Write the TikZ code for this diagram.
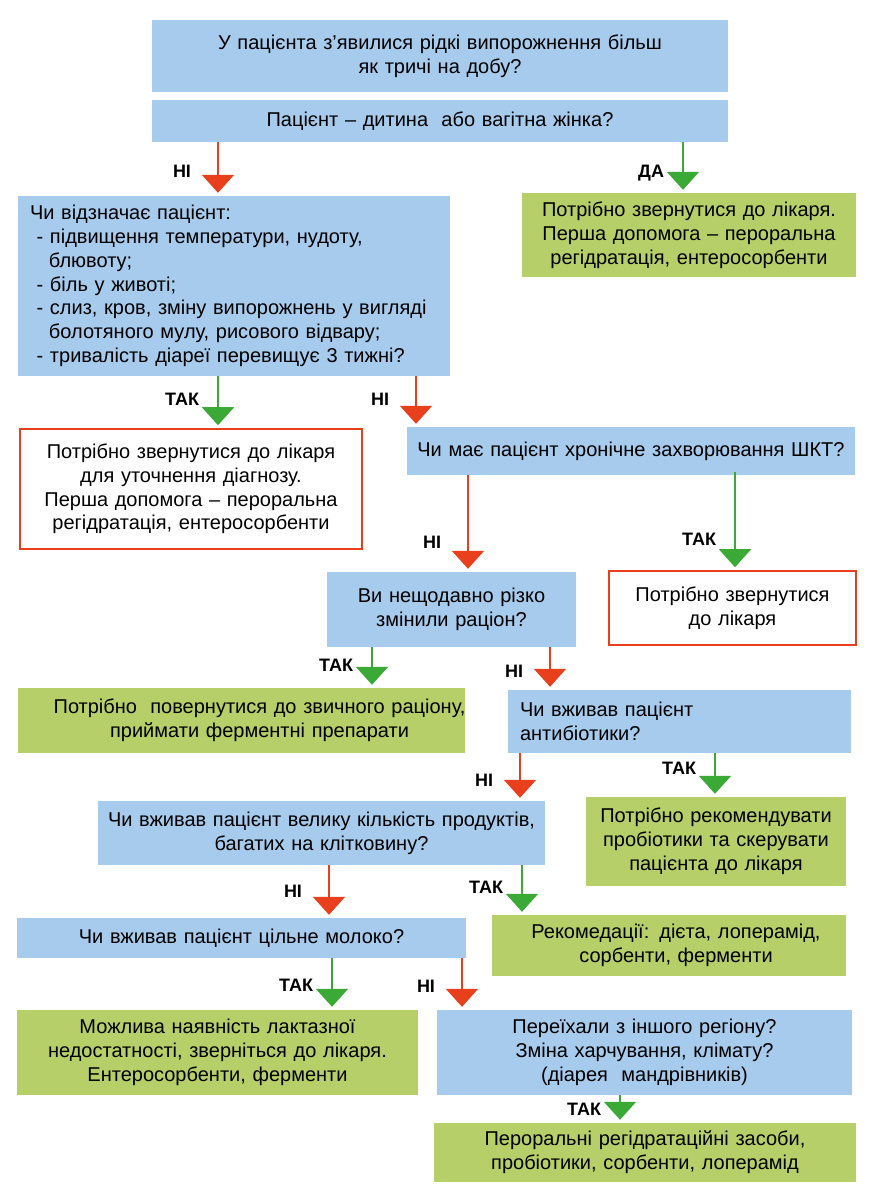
\documentclass[tikz,border=0pt]{standalone}
\usepackage{fontspec}
\setmainfont{Liberation Sans}
\usetikzlibrary{arrows.meta}

\definecolor{qblue}{RGB}{166,203,237}
\definecolor{agreen}{RGB}{183,207,104}
\definecolor{nred}{RGB}{232,64,28}
\definecolor{ygreen}{RGB}{59,169,53}

\newcommand{\boxfont}{\fontsize{20}{23.8}\selectfont}
\newcommand{\lblfont}{\fontsize{18}{20}\selectfont\bfseries}

\tikzset{
  qbox/.style={fill=qblue, inner sep=0pt, align=center, font=\boxfont},
  abox/.style={fill=agreen, inner sep=0pt, align=center, font=\boxfont},
  dbox/.style={draw=nred, line width=1.6pt, fill=white, inner sep=0pt, align=center, font=\boxfont},
  noarrow/.style={draw=nred, line width=2pt, -{Triangle[width=32pt,length=18pt]}, shorten >=3pt},
  yesarrow/.style={draw=ygreen, line width=2pt, -{Triangle[width=32pt,length=18pt]}, shorten >=3pt},
  nlbl/.style={font=\lblfont, anchor=east, xshift=-26pt, inner sep=0pt},
  ylbl/.style={font=\lblfont, anchor=east, xshift=-18pt, inner sep=0pt}
}

\begin{document}
\begin{tikzpicture}[x=1pt, y=-1pt]
  \useasboundingbox (0,0) rectangle (876,1200);

  % questions and answers
  \node[qbox, minimum width=576pt, minimum height=72pt, text width=560pt] (b1) at (440,56)
    {У пацієнта з’явилися рідкі випорожнення більш\\ як тричі на добу?};
  \node[qbox, minimum width=576pt, minimum height=42pt, text width=560pt] (b2) at (440,121)
    {Пацієнт – дитина~ або вагітна жінка?};
  \node[qbox, minimum width=432pt, minimum height=180pt, text width=408pt, align=left] (b3) at (234,286)
    {Чи відзначає пацієнт:\\
     \ - підвищення температури, нудоту,\\
     \hspace*{19pt}блювоту;\\
     \ - біль у животі;\\
     \ - слиз, кров, зміну випорожнень у вигляді\\
     \hspace*{19pt}болотяного мулу, рисового відвару;\\
     \ - тривалість діареї перевищує 3 тижні?};
  \node[abox, minimum width=334pt, minimum height=84pt, text width=324pt] (b4) at (689,235)
    {Потрібно звернутися до лікаря.\\ Перша допомога – пероральна\\ регідратація, ентеросорбенти};
  \node[dbox, minimum width=342pt, minimum height=120pt, text width=330pt] (b5) at (191,489)
    {Потрібно звернутися до лікаря\\ для уточнення діагнозу.\\ Перша допомога – пероральна\\ регідратація, ентеросорбенти};
  \node[qbox, minimum width=448pt, minimum height=48pt, text width=444pt] (b6) at (631,451)
    {Чи має пацієнт хронічне захворювання ШКТ?};
  \node[qbox, minimum width=249pt, minimum height=75pt, text width=239pt] (b7) at (451.5,609.5)
    {Ви нещодавно різко\\ змінили раціон?};
  \node[dbox, minimum width=247pt, minimum height=74pt, text width=237pt] (b8) at (732.5,608)
    {Потрібно звернутися\\ до лікаря};
  \node[abox, minimum width=447pt, minimum height=65pt, text width=447pt] (b9) at (241.5,720.5)
    {\hspace*{36pt}\makebox[0pt]{Потрібно~ повернутися до звичного раціону,}\\
     \hspace*{36pt}\makebox[0pt]{приймати ферментні препарати}};
  \node[qbox, minimum width=343pt, minimum height=63pt, text width=319pt, align=left] (b10) at (679.5,721.5)
    {Чи вживав пацієнт\\ антибіотики?};
  \node[qbox, minimum width=447pt, minimum height=64pt, text width=447pt] (b11) at (321.5,833)
    {Чи вживав пацієнт велику кількість продуктів,\\ багатих на клітковину?};
  \node[abox, minimum width=260pt, minimum height=89pt, text width=256pt] (b12) at (716,841.5)
    {Потрібно рекомендувати\\ пробіотики та скерувати\\ пацієнта до лікаря};
  \node[qbox, minimum width=449pt, minimum height=40pt, text width=435pt] (b13) at (241.5,938)
    {Чи вживав пацієнт цільне молоко?\hspace*{20pt}};
  \node[abox, minimum width=354pt, minimum height=61pt, text width=344pt] (b14) at (669,945.5)
    {\hspace*{14pt}Рекомедації: дієта, лоперамід,\\ \hspace*{14pt}сорбенти, ферменти};
  \node[abox, minimum width=401pt, minimum height=85pt, text width=395pt] (b15) at (217.5,1052.5)
    {Можлива наявність лактазної\\ недостатності, зверніться до лікаря.\\ Ентеросорбенти, ферменти};
  \node[qbox, minimum width=415pt, minimum height=85pt, text width=405pt] (b16) at (644.5,1052.5)
    {Переїхали з іншого регіону?\\ Зміна харчування, клімату?\\ (діарея~ мандрівників)};
  \node[abox, minimum width=422pt, minimum height=59pt, text width=410pt] (b17) at (645,1152.5)
    {Пероральні регідратаційні засоби,\\ пробіотики, сорбенти, лоперамід};

  % arrow columns
  \coordinate (a1) at (218,0);
  \coordinate (a2) at (683,0);
  \coordinate (a3) at (218,0);
  \coordinate (a4) at (416,0);
  \coordinate (a5) at (468,0);
  \coordinate (a6) at (735,0);
  \coordinate (a7) at (372,0);
  \coordinate (a8) at (550,0);
  \coordinate (a9) at (520,0);
  \coordinate (a10) at (715,0);
  \coordinate (a11) at (329,0);
  \coordinate (a12) at (522,0);
  \coordinate (a13) at (332,0);
  \coordinate (a14) at (462,0);
  \coordinate (a15) at (620,0);

  % arrows
  \draw[noarrow] (b2.south -| a1) -- (b3.north -| a1) node[nlbl, pos=.55] {НІ};
  \draw[yesarrow] (b2.south -| a2) -- (b4.north -| a2) node[ylbl, pos=.62] {ДА};
  \draw[yesarrow] (b3.south -| a3) -- (b5.north -| a3) node[ylbl, pos=.44] {ТАК};
  \draw[noarrow] (b3.south -| a4) -- (b6.north -| a4) node[nlbl, pos=.46] {НІ};
  \draw[noarrow] (b6.south -| a5) -- (b7.north -| a5) node[nlbl, pos=.69] {НІ};
  \draw[yesarrow] ([yshift=3pt]b6.south -| a6) -- (b8.north -| a6) node[ylbl, pos=.68] {ТАК};
  \draw[yesarrow] (b7.south -| a7) -- (b9.north -| a7) node[ylbl, pos=.45] {ТАК};
  \draw[noarrow] (b7.south -| a8) -- (b10.north -| a8) node[nlbl, pos=.57] {НІ};
  \draw[noarrow] (b10.south -| a9) -- (b11.north -| a9) node[nlbl, pos=.56] {НІ};
  \draw[yesarrow] (b10.south -| a10) -- (b12.north -| a10) node[ylbl, pos=.34] {ТАК};
  \draw[noarrow] (b11.south -| a11) -- (b13.north -| a11) node[nlbl, pos=.5] {НІ};
  \draw[yesarrow] (b11.south -| a12) -- (b14.north -| a12) node[ylbl, pos=.45] {ТАК};
  \draw[yesarrow] (b13.south -| a13) -- (b15.north -| a13) node[ylbl, pos=.53] {ТАК};
  \draw[noarrow] (b13.south -| a14) -- (b16.north -| a14) node[nlbl, pos=.55] {НІ};
  \draw[yesarrow] (b16.south -| a15) -- (b17.north -| a15) node[ylbl, pos=.52] {ТАК};
\end{tikzpicture}
\end{document}
